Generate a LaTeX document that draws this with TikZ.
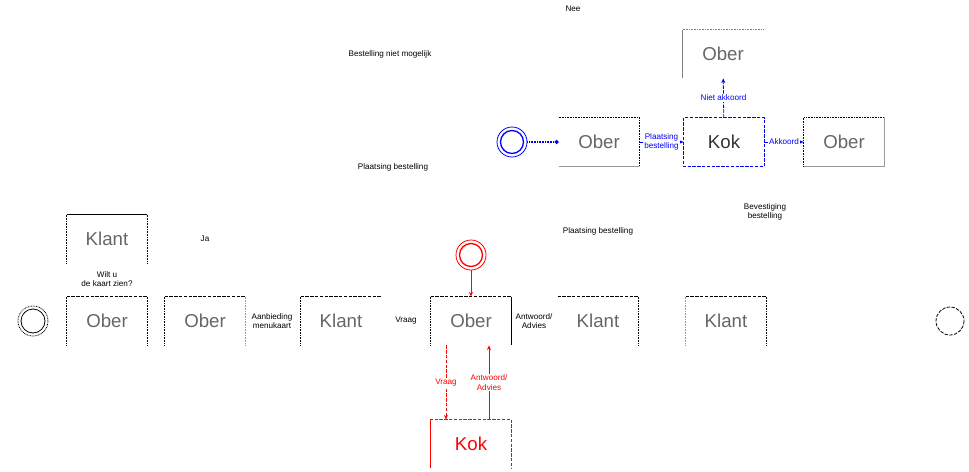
\documentclass[tikz,border=0pt]{standalone}
\usepackage{fontspec}
\setmainfont{Liberation Sans}
\usetikzlibrary{arrows.meta}

\tikzset{every picture/.style={line width=0.6pt}}
\tikzset{
  box/.style={minimum width=60pt, minimum height=36pt, inner sep=0pt, text=black!60, font=\fontsize{14}{16}\selectfont},
  lbl/.style={inner sep=0.75pt, align=center, font=\fontsize{6.1}{7}\selectfont},
  dsh/.style={dash pattern=on 2.6pt off 1pt},
  dts/.style={dash pattern=on 0.6pt off 0.6pt},
  tip/.style={-{Stealth[length=3.5pt,width=3pt]}}
}

\begin{document}
\begin{tikzpicture}[x=0.75pt,y=0.75pt,yscale=-1,xscale=1]
\useasboundingbox (0,0) rectangle (969,471);

%Start and end states
\draw [dts] (33,321) circle (15);
\draw (33,321) circle (12);
\node (start) at (33,321) [minimum size=22.5pt, inner sep=0pt] {};
\draw [dsh] (950,321) circle (14);
\node (stop) at (950,321) [minimum size=21pt, inner sep=0pt] {};

%Boxes bottom row
\node (klantA) at (107,239) [box] {Klant};
\draw (klantA.north west) -- (klantA.north east);
\draw [dts] (klantA.north west) -- (klantA.south west) (klantA.north east) -- (klantA.south east);

\node (oberA) at (107,321) [box] {Ober};
\draw [dsh] (oberA.north west) -- (oberA.north east);
\draw [dts] (oberA.north west) -- (oberA.south west) (oberA.north east) -- (oberA.south east);

\node (oberB) at (205,321) [box] {Ober};
\draw [dsh] (oberB.north west) -- (oberB.north east);
\draw [dts] (oberB.north west) -- (oberB.south west);
\draw [dts, black!40] (oberB.north east) -- (oberB.south east);

\node (klantB) at (341,321) [box] {Klant};
\draw [dsh] (klantB.north west) -- (klantB.north east);
\draw [dts] (klantB.north west) -- (klantB.south west);

\node (oberC) at (471,321) [box] {Ober};
\draw [dsh] (oberC.north west) -- (oberC.north east);
\draw [dts] (oberC.north west) -- (oberC.south west);
\draw (oberC.north east) -- (oberC.south east);

\node (klantC) at (598,321) [box] {Klant};
\draw [dsh] (klantC.north west) -- (klantC.north east);
\draw [dts] (klantC.north east) -- (klantC.south east);

\node (klantD) at (726,321) [box] {Klant};
\draw [dsh] (klantD.north west) -- (klantD.north east);
\draw [dts, black!40] (klantD.north west) -- (klantD.south west);
\draw [dts] (klantD.north east) -- (klantD.south east);

%Red part
\draw [red] (471,255) circle (15);
\draw [red, line width=1pt] (471,255) circle (11.5);
\node (startR) at (471,255) [minimum size=22.5pt, inner sep=0pt] {};
\node (kokR) at (471,444) [box, text=red] {Kok};
\draw [red, dsh] (kokR.south west) -- (kokR.north west) -- (kokR.north east) -- (kokR.south east);
\draw [red] (kokR.north west) -- (kokR.south west);
\draw [red, tip] (startR) -- (oberC);
\draw [red, tip, dsh] ([xshift=-18.75pt]oberC.south) -- ([xshift=-18.75pt]kokR.north)
  node [midway, lbl, fill=white, text=red] {Vraag};
\draw [red, tip] ([xshift=13.5pt]kokR.north) -- ([xshift=13.5pt]oberC.south)
  node [midway, lbl, fill=white, text=red] {Antwoord/\\Advies};

%Blue part
\draw [blue] (512,142) circle (15);
\draw [blue, line width=1pt] (512,142) circle (11.5);
\node (startB) at (512,142) [minimum size=22.5pt, inner sep=0pt] {};

\node (oberD) at (599,142) [box] {Ober};
\draw [dts] (oberD.north west) -- (oberD.north east) -- (oberD.south east);
\draw [black!40] (oberD.south west) -- (oberD.south east);

\node (kokB) at (724,142) [box, text=black!80] {Kok};
\draw [blue, dsh] (kokB.north west) rectangle (kokB.south east);

\node (oberE) at (723,54) [box] {Ober};
\draw [dts, black!50] (oberE.north west) -- (oberE.north east);
\draw [black!50] (oberE.north west) -- (oberE.south west);

\node (oberF) at (844,142) [box] {Ober};
\draw [dts] (oberF.south west) -- (oberF.north west) -- (oberF.north east);
\draw [black!40] (oberF.north east) -- (oberF.south east) -- (oberF.south west);

\draw [blue, dts, line width=1pt, -{Circle[length=3pt]}] (startB) -- (oberD);
\draw [blue, tip] (oberD) -- (kokB)
  node [midway, lbl, fill=white, text=blue] {Plaatsing\\bestelling};
\draw [blue, tip] (kokB) -- (oberF)
  node [midway, lbl, fill=white, text=blue] {Akkoord};
\draw [blue, tip, dsh] (kokB) -- (oberE)
  node [pos=0.5, lbl, fill=white, text=blue] {Niet akkoord};

% Text Nodes
\node (nee) at (573,9) [lbl] {Nee};
\node (nietmog) at (390,54) [lbl] {Bestelling niet mogelijk};
\node (plaatsA) at (393,167) [lbl] {Plaatsing bestelling};
\node (ja) at (205,239) [lbl] {Ja};
\node (wilt) at (107,279) [lbl] {Wilt u\\de kaart zien?};
\node (aanb) at (272,321) [lbl] {Aanbieding\\menukaart};
\node (vraag) at (406,321) [lbl] {Vraag};
\node (antw) at (534,321) [lbl] {Antwoord/\\Advies};
\node (plaatsB) at (598,231) [lbl] {Plaatsing bestelling};
\node (bevest) at (765,212) [lbl] {Bevestiging\\bestelling};

\end{tikzpicture}
\end{document}
